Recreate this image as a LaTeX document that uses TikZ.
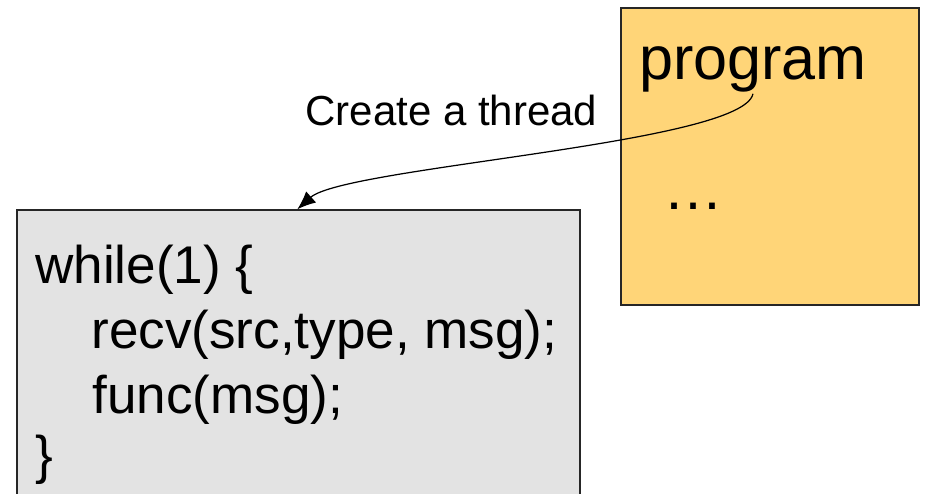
\documentclass[tikz,border=0pt]{standalone}
\usepackage{fontspec}
\setmainfont{Liberation Sans}
\usepackage{tikz}
\usetikzlibrary{calc,arrows.meta,positioning}
\usepackage{xcolor}
\definecolor{progorange}{RGB}{255,213,120}
\definecolor{loopgray}{RGB}{227,227,227}
\tikzset{
  panel/.style={draw=black!85,line width=0.8pt,inner sep=0pt},
  codeline/.style={anchor=base west,inner sep=0pt,font=\fontsize{30.2}{36}\selectfont},
}

\begin{document}
\begin{tikzpicture}
    \clip (0,0) rectangle (18.54,9.86);
    % Programa principal
    \node[panel,fill=progorange,minimum width=5.96cm,minimum height=5.94cm] (main) at (15.40,6.73) {};
    \node[anchor=base west,inner sep=1pt,font=\fontsize{34.8}{40}\selectfont] (prog) at (12.74,8.28) {program};
    \node[anchor=base west,inner sep=0pt,font=\fontsize{34.1}{40}\selectfont] (dots) at (13.26,5.68) {…};
    % Hilo creado
    \node[panel,fill=loopgray,minimum width=11.26cm,minimum height=6.26cm] (loop) at (5.97,2.53) {};
    \node[codeline] (l1) at (0.70,4.20) {while(1) \{};
    \node[codeline] (l2) at (1.82,2.90) {recv(src,type, msg);};
    \node[codeline] (l3) at (1.84,1.60) {func(msg);};
    \node[codeline] (l4) at (0.70,0.40) {\}};
    % Flecha
    \coordinate (tip) at ([xshift=5.62cm]loop.north west);
    \draw[line width=0.7pt,-{Latex[length=10.5pt,width=8.5pt]}]
      (prog.south) .. controls ++(-0.20,-1.00) and ++(0.95,0.85) .. (tip);
    \node[anchor=base west,inner sep=0pt,font=\fontsize{23.9}{28}\selectfont] (lbl) at (6.10,7.36) {Create a thread};
\end{tikzpicture}
\end{document}
